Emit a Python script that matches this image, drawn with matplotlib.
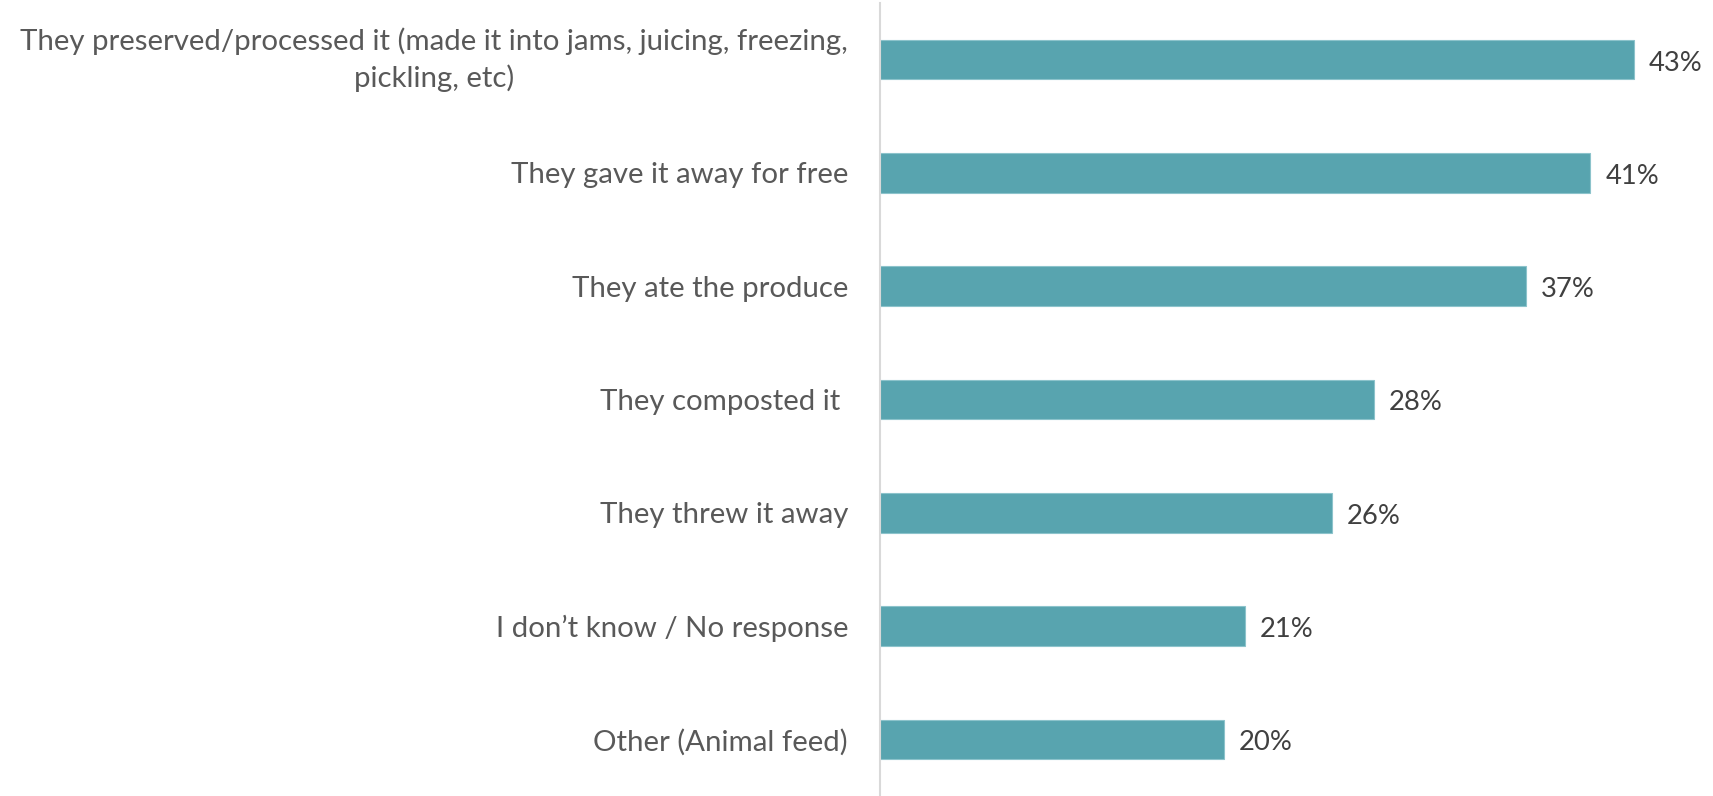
import matplotlib.pyplot as plt

# bar values (percent)
categories = [
    "They preserved/processed it (made it into jams, juicing, freezing,\npickling, etc)",
    "They gave it away for free",
    "They ate the produce",
    "They composted it ",
    "They threw it away",
    "I don\u2019t know / No response",
    "Other (Animal feed)",
]
values = [43.2, 40.7, 37.0, 28.3, 25.9, 20.9, 19.7]
value_labels = ["43%", "41%", "37%", "28%", "26%", "21%", "20%"]

bar_color = "#58a4af"
text_color = "#595959"

plt.rcParams["font.family"] = ["Lato", "DejaVu Sans"]

fig = plt.figure(figsize=(17.13, 7.96), dpi=100)
ax = fig.add_axes([880 / 1713, 0.0, 1 - 880 / 1713, 1 - 3 / 796])

pos = list(range(len(categories)))
ax.barh(pos, values, height=0.35, color=bar_color, edgecolor="#8cc3cb", linewidth=0.8)
ax.set_ylim(len(categories) - 0.5, -0.5)
ax.set_xlim(0, 833 / 17.45)

for p, v, lab in zip(pos, values, value_labels):
    ax.annotate(lab, (v, p), xytext=(11, -2.5), textcoords="offset points",
                va="center", ha="left", fontsize=19.7, color="#404040")

ax.set_yticks(pos)
labels = ax.set_yticklabels(categories, fontsize=21.2, color=text_color, ha="right",
                            multialignment="center", linespacing=1.4)
labels[0].set_va("center")  # two-line label: centre the block on the bar
ax.tick_params(axis="y", length=0, pad=23)
ax.set_xticks([])

for s in ["top", "right", "bottom"]:
    ax.spines[s].set_visible(False)
ax.spines["left"].set_color("#d9d9d9")
ax.spines["left"].set_linewidth(1.5)

fig.savefig("out.png", dpi=100)
